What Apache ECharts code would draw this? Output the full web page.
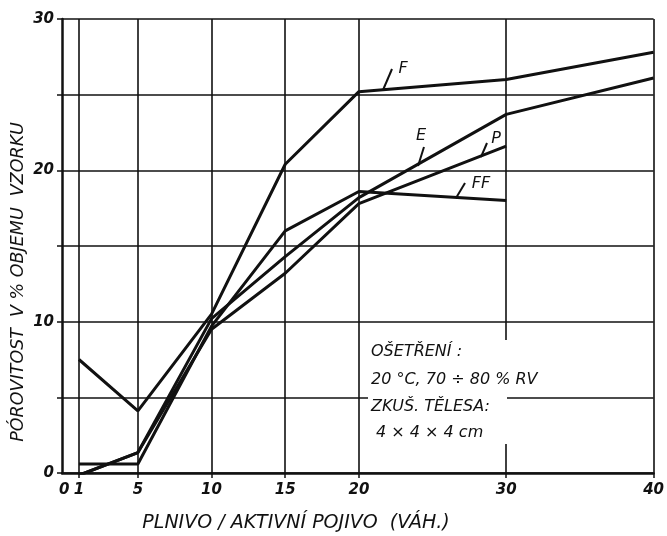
<!DOCTYPE html>
<html><head><meta charset="utf-8">
<script src="https://cdn.jsdelivr.net/npm/echarts@6/dist/echarts.min.js"></script>
<style>html,body{margin:0;padding:0;background:#fff}#c{width:667px;height:536px}</style>
</head><body><div id="c"></div>
<script>
// ---- data ----
const xTickValues = [0, 1, 5, 10, 15, 20, 30, 40];
const xGridValues = [1, 5, 10, 15, 20, 30, 40];
const yTickLabels = [0, 10, 20, 30];
const xF  = [1, 5, 10, 15, 20, 30, 40];
const yF  = [7.5, 4.1, 10.5, 20.4, 25.2, 26.0, 27.8];
const xE  = [1, 5, 10, 15, 20, 30, 40];
const yE  = [-0.15, 1.35, 10.2, 14.3, 18.2, 23.7, 26.1];
const xP  = [1, 5, 10, 15, 20, 30];
const yP  = [-0.15, 1.35, 9.5, 13.2, 17.8, 21.6];
const xFF = [1, 5, 10, 15, 20, 30];
const yFF = [0.6, 0.6, 9.7, 16.0, 18.6, 18.0];
const xTitle = 'PLNIVO / AKTIVNÍ POJIVO  (VÁH.)';
const yTitle = 'PÓROVITOST  V % OBJEMU  VZORKU';
const noteLines = ['OŠETŘENÍ :', '20 °C, 70 ÷ 80 % RV', 'ZKUŠ. TĚLESA:', ' 4 × 4 × 4 cm'];

const INK = '#111';
const FONT = 'DejaVu Sans';
function pairs(xs, ys) { return xs.map((x, i) => [x, ys[i]]); }
function lineSeries(name, xs, ys) {
  return { name, type: 'line', data: pairs(xs, ys), showSymbol: false, symbol: 'none',
    lineStyle: { color: INK, width: 3 }, itemStyle: { color: INK }, clip: true, z: 5 };
}
const chart = echarts.init(document.getElementById('c'), null, { renderer: 'canvas' });
const txt = { fontFamily: FONT, fontStyle: 'italic', fontSize: 15, fill: INK };
chart.setOption({
  animation: false,
  backgroundColor: '#fff',
  grid: { left: 62, right: 10, top: 19, bottom: 63, containLabel: false },
  xAxis: {
    type: 'value', min: -0.15, max: 40,
    axisLine: { show: true, onZero: false, lineStyle: { color: INK, width: 2.5 } },
    axisTick: { show: true, length: 5, inside: false, customValues: xGridValues, lineStyle: { color: INK, width: 1.5 } },
    axisLabel: { customValues: xTickValues, margin: 10, color: INK, fontFamily: FONT, fontSize: 15, fontStyle: 'italic', fontWeight: 'bold' },
    splitLine: { show: true, lineStyle: { color: INK, width: 1.6 } }
  },
  yAxis: {
    type: 'value', min: 0, max: 30, interval: 5,
    axisLine: { show: true, onZero: false, lineStyle: { color: INK, width: 2.5 } },
    axisTick: { show: true, length: 5, lineStyle: { color: INK, width: 1.5 } },
    axisLabel: { margin: 8, color: INK, fontFamily: FONT, fontSize: 15, fontStyle: 'italic', fontWeight: 'bold',
      formatter: v => yTickLabels.indexOf(v) >= 0 ? String(v) : '' },
    splitLine: { show: true, lineStyle: { color: INK, width: 1.6 } }
  },
  series: [lineSeries('F', xF, yF), lineSeries('E', xE, yE), lineSeries('P', xP, yP), lineSeries('FF', xFF, yFF)],
  graphic: [
    { type: 'text', x: 296, y: 523, z: 10, style: Object.assign({}, txt, { text: xTitle, fontSize: 19, align: 'center', verticalAlign: 'middle' }) },
    { type: 'text', x: 18, y: 282, rotation: Math.PI / 2, z: 10,
      style: Object.assign({}, txt, { text: yTitle, fontSize: 17.5, align: 'center', verticalAlign: 'middle' }) },
    { type: 'rect', shape: { x: 368, y: 340, width: 139, height: 104 }, style: { fill: '#fff' }, z: 8 },
    { type: 'text', x: 371, y: 352, z: 10, style: Object.assign({}, txt, { text: noteLines[0], verticalAlign: 'middle', fontSize: 16 }) },
    { type: 'text', x: 369, y: 380, z: 10, style: Object.assign({}, txt, { text: noteLines[1], verticalAlign: 'middle', fontSize: 16, backgroundColor: '#fff', padding: [2, 2] }) },
    { type: 'text', x: 371, y: 407, z: 10, style: Object.assign({}, txt, { text: noteLines[2], verticalAlign: 'middle', fontSize: 16 }) },
    { type: 'text', x: 371, y: 433, z: 10, style: Object.assign({}, txt, { text: noteLines[3], verticalAlign: 'middle', fontSize: 16 }) },
    { type: 'line', shape: { x1: 383, y1: 90, x2: 392, y2: 69 }, style: { stroke: INK, lineWidth: 2 }, z: 10 },
    { type: 'text', x: 403, y: 69, z: 10, style: Object.assign({}, txt, { text: 'F', fontSize: 16, align: 'center', verticalAlign: 'middle' }) },
    { type: 'line', shape: { x1: 418, y1: 166, x2: 424, y2: 147 }, style: { stroke: INK, lineWidth: 2 }, z: 10 },
    { type: 'text', x: 421, y: 136, z: 10, style: Object.assign({}, txt, { text: 'E', fontSize: 16, align: 'center', verticalAlign: 'middle' }) },
    { type: 'line', shape: { x1: 481, y1: 157, x2: 487, y2: 143 }, style: { stroke: INK, lineWidth: 2 }, z: 10 },
    { type: 'text', x: 496, y: 139, z: 10, style: Object.assign({}, txt, { text: 'P', fontSize: 16, align: 'center', verticalAlign: 'middle' }) },
    { type: 'line', shape: { x1: 456, y1: 198, x2: 465, y2: 183 }, style: { stroke: INK, lineWidth: 2 }, z: 10 },
    { type: 'text', x: 481, y: 184, z: 10, style: Object.assign({}, txt, { text: 'FF', fontSize: 16, align: 'center', verticalAlign: 'middle' }) }
  ]
});
</script></body></html>
